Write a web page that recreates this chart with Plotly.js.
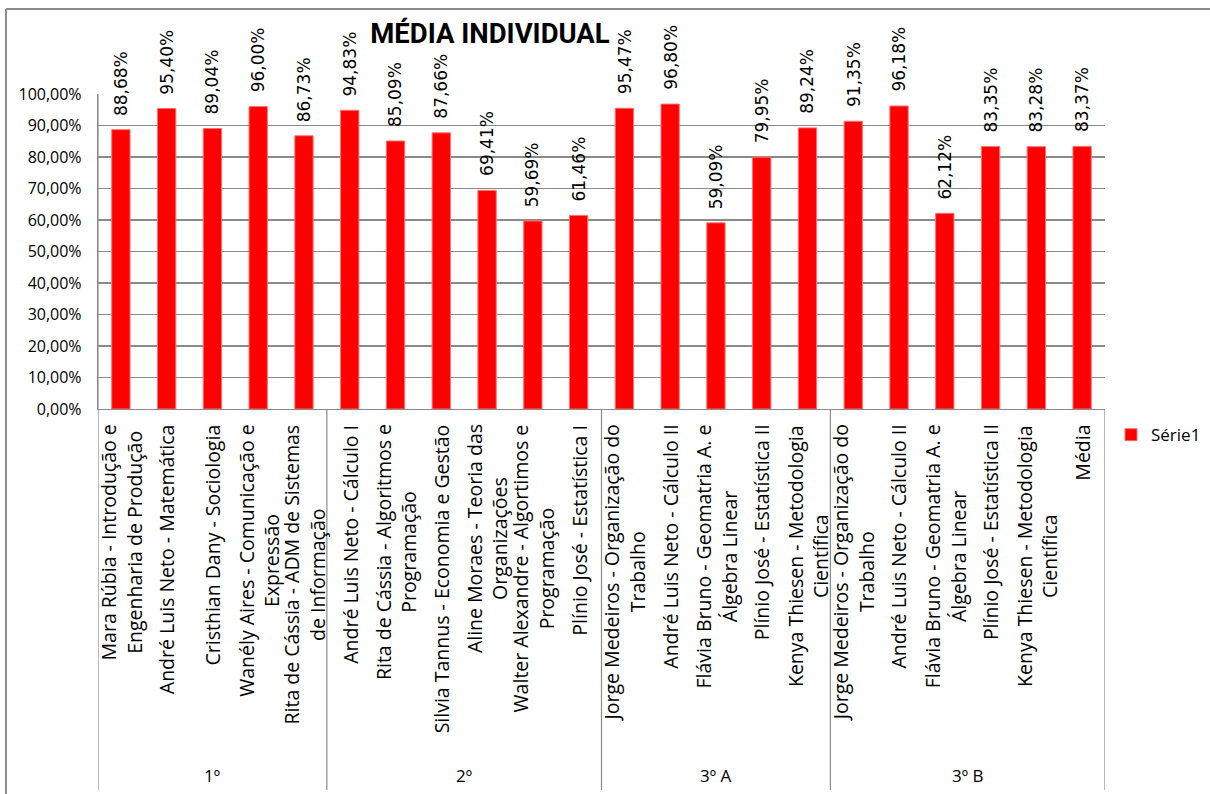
<!DOCTYPE html>
<html>
<head>
<meta charset="utf-8">
<script src="https://cdn.plot.ly/plotly-3.0.1.min.js"></script>
<style>
  html, body { margin: 0; padding: 0; background: #fff; }
  #chart { width: 1210px; height: 794px; }
</style>
</head>
<body>
<div id="chart"></div>
<script>
// ---- Data ----
const categories = [
  "Mara Rúbia - Introdução e<br>Engenharia de Produção",
  "André Luis Neto - Matemática",
  "Cristhian Dany - Sociologia",
  "Wanély Aires - Comunicação e<br>Expressão",
  "Rita de Cássia - ADM de Sistemas<br>de Informação",
  "André Luis Neto - Cálculo I",
  "Rita de Cássia - Algoritmos e<br>Programação",
  "Silvia Tannus - Economia e Gestão",
  "Aline Moraes - Teoria das<br>Organizações",
  "Walter Alexandre - Algortimos e<br>Programação",
  "Plínio José - Estatística I",
  "Jorge Medeiros - Organização do<br>Trabalho",
  "André Luis Neto - Cálculo II",
  "Flávia Bruno - Geomatria A. e<br>Álgebra Linear",
  "Plínio José - Estatística II",
  "Kenya Thiesen - Metodologia<br>Científica",
  "Jorge Medeiros - Organização do<br>Trabalho",
  "André Luis Neto - Cálculo II",
  "Flávia Bruno - Geomatria A. e<br>Álgebra Linear",
  "Plínio José - Estatística II",
  "Kenya Thiesen - Metodologia<br>Científica",
  "Média"
];
const values = [
  0.8868, 0.9540, 0.8904, 0.9600, 0.8673,
  0.9483, 0.8509, 0.8766, 0.6941, 0.5969, 0.6146,
  0.9547, 0.9680, 0.5909, 0.7995, 0.8924,
  0.9135, 0.9618, 0.6212, 0.8335, 0.8328, 0.8337
];
const groups = ["1º", "2º", "3º A", "3º B"];
const groupSizes = [5, 6, 5, 6];
const seriesName = "Série1";
const chartTitle = "MÉDIA INDIVIDUAL";
const yTicks = [0, 0.1, 0.2, 0.3, 0.4, 0.5, 0.6, 0.7, 0.8, 0.9, 1.0];

// ---- Build ----
const xs = values.map((v, i) => i);
const fmtPct = v => (v * 100).toFixed(2).replace('.', ',') + '%';

const catFont = { family: 'Open Sans, Noto Sans, sans-serif', size: 19.5, color: '#000' };
const grpFont = { family: 'Open Sans, Noto Sans, sans-serif', size: 17, color: '#000' };
const lineCol = '#8a8a8a';

const trace = {
  type: 'bar',
  x: xs,
  y: values,
  name: seriesName,
  marker: { color: '#ff0000', line: { color: '#ff7070', width: 1 } },
  width: 0.4,
  hoverinfo: 'y',
  showlegend: true
};

const annotations = [];
// data labels
values.forEach((v, i) => {
  annotations.push({
    x: i, y: v, xref: 'x', yref: 'y',
    text: fmtPct(v), showarrow: false,
    textangle: -90, xanchor: 'center', yanchor: 'bottom', yshift: 12,
    font: { family: 'DejaVu Sans, sans-serif', size: 17, color: '#000' }
  });
});
// category labels
categories.forEach((c, i) => {
  annotations.push({
    x: i, y: -0.043, xref: 'x', yref: 'paper',
    text: c, showarrow: false, textangle: -90,
    xanchor: 'center', yanchor: 'top', align: 'center',
    font: catFont
  });
});
// group labels and separators
const shapes = [];
let start = -0.5;
const sepBottom = -1.2095;
shapes.push({ type: 'line', xref: 'x', yref: 'paper', x0: start, x1: start, y0: 1, y1: sepBottom,
  line: { color: lineCol, width: 1.2 } });
groups.forEach((g, k) => {
  const end = start + groupSizes[k];
  annotations.push({
    x: (start + end) / 2, y: -1.165, xref: 'x', yref: 'paper',
    text: g, showarrow: false, xanchor: 'center', yanchor: 'middle',
    font: grpFont
  });
  shapes.push({ type: 'line', xref: 'x', yref: 'paper', x0: end, x1: end, y0: 0, y1: sepBottom,
    line: { color: lineCol, width: 1.2 } });
  start = end;
});
// outer chart border (top and left)
shapes.push({ type: 'line', xref: 'paper', yref: 'paper', x0: -0.0914, x1: 1.2, y0: 1.27, y1: 1.27,
  line: { color: '#8c8c8c', width: 2 } });
shapes.push({ type: 'line', xref: 'paper', yref: 'paper', x0: -0.0914, x1: -0.0914, y0: 1.27, y1: -1.3,
  line: { color: '#8c8c8c', width: 2 } });

const layout = {
  width: 1210, height: 794,
  margin: { l: 98, r: 105, t: 94, b: 385, autoexpand: false },
  paper_bgcolor: '#fff', plot_bgcolor: '#fff',
  title: {
    text: chartTitle,
    font: { family: 'Liberation Sans Narrow, Roboto, sans-serif', size: 27.5, color: '#000', weight: 'bold' },
    x: 490 / 1210, xref: 'container', xanchor: 'center',
    y: 1 - 33 / 794, yref: 'container', yanchor: 'middle'
  },
  separators: ',.',
  xaxis: {
    range: [-0.5, 21.5], showticklabels: false, showgrid: false, zeroline: false,
    showline: true, linecolor: lineCol, linewidth: 1.2, ticks: '', fixedrange: true
  },
  yaxis: {
    range: [0, 1], tickvals: yTicks, tickformat: '.2%',
    showgrid: true, gridcolor: lineCol, gridwidth: 1.2,
    zeroline: false, showline: true, linecolor: lineCol, linewidth: 1.2,
    ticks: '', ticklabelstandoff: 12,
    tickfont: { family: 'Open Sans, Noto Sans, sans-serif', size: 16, color: '#000' }
  },
  showlegend: true,
  legend: {
    x: (1111 - 98) / 1007, xanchor: 'left', xref: 'paper',
    y: -0.083, yanchor: 'middle',
    font: { family: 'Open Sans, Noto Sans, sans-serif', size: 17, color: '#000' },
    bgcolor: 'rgba(0,0,0,0)', borderwidth: 0
  },
  annotations: annotations,
  shapes: shapes
};

Plotly.newPlot('chart', [trace], layout, { displayModeBar: false, staticPlot: true });
</script>
</body>
</html>
